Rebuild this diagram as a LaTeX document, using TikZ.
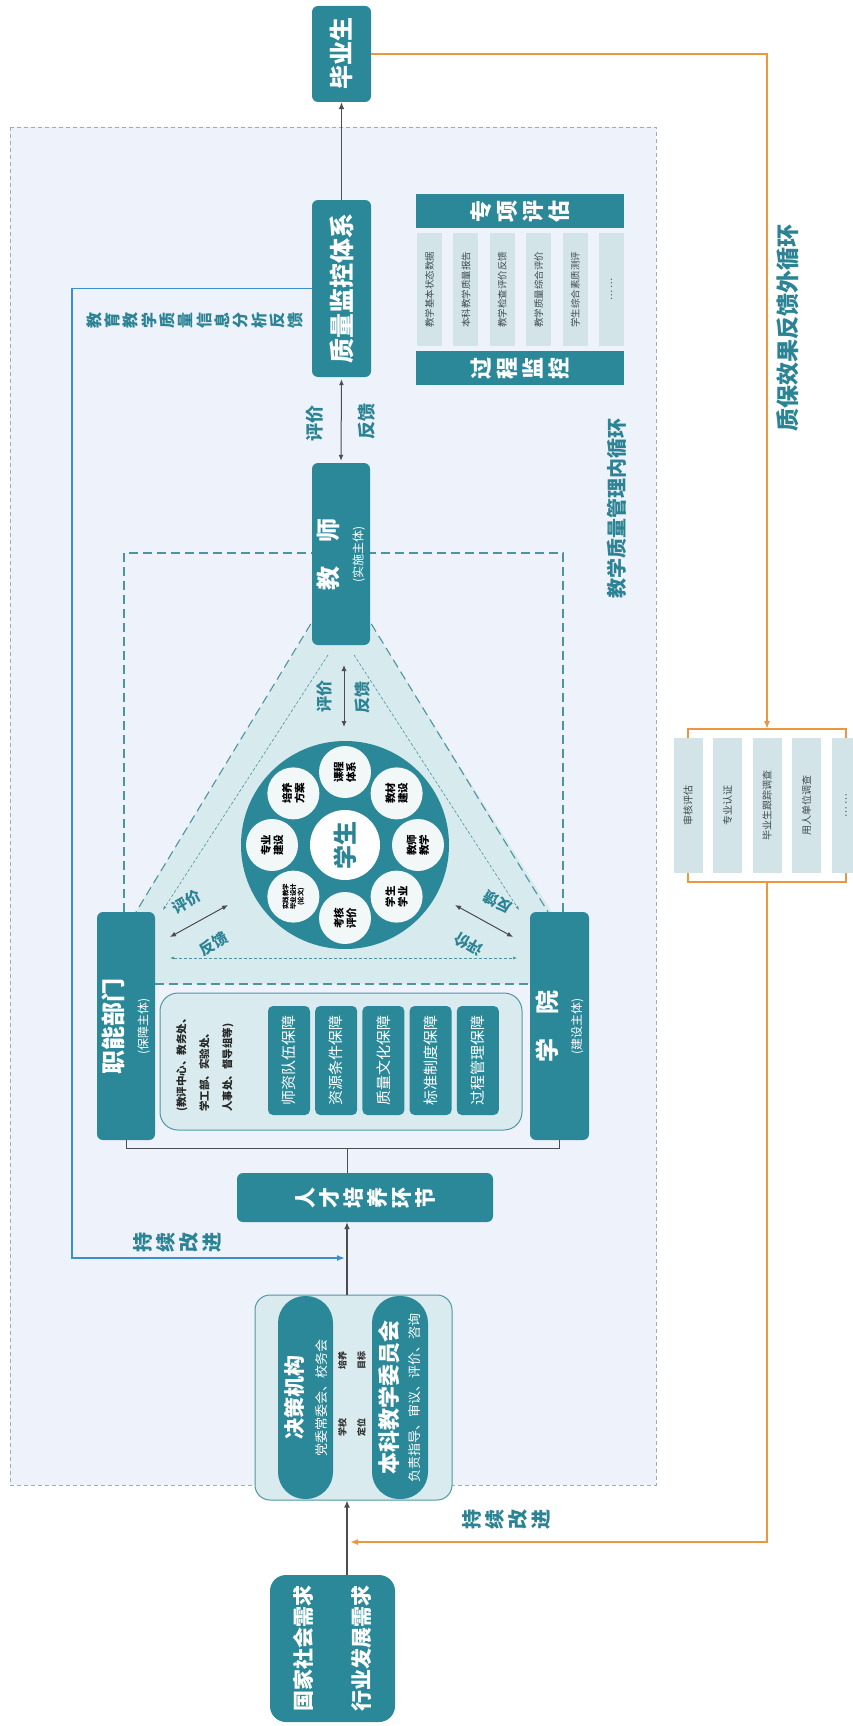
\documentclass[tikz,border=0pt]{standalone}
\usepackage{fontspec}
\setmainfont{Noto Sans CJK SC}
\usetikzlibrary{arrows.meta}

\definecolor{boxteal}{HTML}{2A8898}
\definecolor{labteal}{HTML}{2B8393}
\definecolor{paneltri}{HTML}{D7EAEE}
\definecolor{panelfill}{HTML}{D9EBEE}
\definecolor{panelline}{HTML}{4F97A3}
\definecolor{outerfill}{HTML}{EEF2FB}
\definecolor{outerline}{HTML}{9DAAB8}
\definecolor{colfill}{HTML}{D3E4E8}
\definecolor{coltext}{HTML}{3E4A4E}
\definecolor{dashteal}{HTML}{4E93A0}
\definecolor{fbblue}{HTML}{3A8FCC}
\definecolor{fborange}{HTML}{EC973F}
\definecolor{arrowgray}{HTML}{4D4D4D}
\definecolor{smallcirc}{HTML}{F2F7F8}

\newcommand\fsz[2]{\fontsize{#1}{#2}\selectfont}

\tikzset{
  tealbox/.style={fill=boxteal, text=white, rounded corners=6pt, inner sep=0pt, rotate=90, align=center},
  lightcol/.style={fill=colfill, text=coltext, inner sep=0pt, rotate=90},
  looptext/.style={text=labteal, inner sep=0pt},
  bigdash/.style={draw=dashteal, line width=1.1pt, dash pattern=on 9pt off 5pt},
  smalldash/.style={draw=dashteal, line width=0.6pt, dash pattern=on 3pt off 2pt},
  flowarrow/.style={draw=arrowgray, line width=1.3pt, -{Latex[length=7pt,width=6pt]}},
  twoway/.style={draw=arrowgray, line width=1pt, {Latex[length=6pt,width=5pt]}-{Latex[length=6pt,width=5pt]}},
  blueback/.style={draw=fbblue, line width=1.5pt},
  orangeback/.style={draw=fborange, line width=1.5pt},
}

\begin{document}
\begin{tikzpicture}[x=1pt,y=-1pt]
		%%%%% START %%%%%
		\useasboundingbox (0,0) rectangle (853,1726);
		\fill[white] (0,0) rectangle (853,1726);
		
		% inner loop frame
		\draw[outerline, fill=outerfill, dash pattern=on 4pt off 3pt, line width=0.7pt] (10,127) rectangle (656,1485);
		
		% triangle of the three subjects
		\fill[paneltri] (314,620) -- (128,925) -- (128,984) -- (560,984) -- (560,925) -- (368,620) -- cycle;
		\draw[bigdash] (124,912) -- (124,553) -- (563,553) -- (563,912);
		\draw[bigdash] (318,612) -- (136,912);
		\draw[bigdash] (364,612) -- (548,912);
		\draw[bigdash] (155,984) -- (530,984);
		\draw[smalldash, -{Latex[length=4pt,width=3pt]}] (328,655) -- (163,910);
		\draw[smalldash, -{Latex[length=4pt,width=3pt]}] (354,655) -- (519,910);
		\draw[smalldash, {Latex[length=4pt,width=3pt]}-{Latex[length=4pt,width=3pt]}] (170,958) -- (517,958);
		
		\draw[twoway] (170,937) -- (228,905);
		\node[looptext, font=\bfseries\fsz{15}{18}, rotate=30] (pjl) at (187,902) {评价};
		\node[looptext, font=\bfseries\fsz{15}{18}, rotate=30] (fkl) at (214,944) {反馈};
		\draw[twoway] (455,905) -- (513,937);
		\node[looptext, font=\bfseries\fsz{15}{18}, rotate=150] (fkr) at (498,902) {反馈};
		\node[looptext, font=\bfseries\fsz{15}{18}, rotate=150] (pjr) at (469,944) {评价};
		\draw[twoway] (344,665) -- (344,727);
		\node[looptext, font=\bfseries\fsz{16}{18}, rotate=90] (pjt) at (324,696) {评价};
		\node[looptext, font=\bfseries\fsz{16}{18}, rotate=90] (fkt) at (362,697) {反馈};
		
		% student circle
		\node[circle, fill=boxteal, minimum size=208pt, inner sep=0pt] (ring) at (345,845) {};
		\node[circle, fill=white, minimum size=70pt, inner sep=0pt, rotate=90, text=labteal, font=\bfseries\fsz{24}{28}] (student) at (ring) {学生};
		\foreach \ang/\fsa/\fsb/\txt [count=\i] in {90/10.5/12.5/课程\\体系, 45/10.5/12.5/教材\\建设, 0/10.5/12.5/教师\\教学, -45/10.5/12.5/学生\\学业, -90/10.5/12.5/考核\\评价, -135/6.5/7.5/实践教学\\毕业设计\\(论文), 180/10.5/12.5/专业\\建设, 135/10.5/12.5/培养\\方案}
			\node[circle, fill=smallcirc, minimum size=52pt, inner sep=0pt, rotate=90, align=center, font=\bfseries\fsz{\fsa}{\fsb}] (sub\i) at ({345+73*cos(\ang)},{845-73*sin(\ang)}) {\txt};
		
		% guarantee panel
		\node[draw=panelline, fill=panelfill, line width=1pt, rounded corners=18pt, minimum width=362pt, minimum height=137pt, inner sep=0pt] (bzpanel) at (341,1061.5) {};
		\node[rotate=90, anchor=west, align=left, inner sep=0pt, font=\bfseries\fsz{10.5}{23}, text=black!85] (units) at (205,1112) {(教评中心、教务处、\\学工部、实验处、\\人事处、督导组等)};
		\foreach \txt [count=\i] in {师资队伍保障, 资源条件保障, 质量文化保障, 标准制度保障, 过程管理保障}
			\node[tealbox, rounded corners=5pt, minimum width=109pt, minimum height=42pt, font=\fsz{15}{18}] (bz\i) at ({289+47.2*(\i-1)},1060.5) {\txt};
		
		% main boxes
		\node[tealbox, minimum width=96pt, minimum height=59pt, font=\bfseries\fsz{24}{28}] (grad) at (341.5,54) {毕业生};
		\node[tealbox, minimum width=177pt, minimum height=59pt, font=\bfseries\fsz{25}{30}] (qms) at (341.5,288.5) {质量监控体系};
		\node[tealbox, minimum width=182pt, minimum height=58pt, font=\bfseries\fsz{12}{25}] (teacher) at (341,554) {{\fsz{24}{28}教\hspace{1em}师}\\{\mdseries(实施主体)}};
		\node[tealbox, minimum width=228pt, minimum height=58pt, font=\bfseries\fsz{12}{25}] (dept) at (126,1026) {{\fsz{24}{28}职能部门}\\{\mdseries(保障主体)}};
		\node[tealbox, minimum width=228pt, minimum height=59pt, font=\bfseries\fsz{12}{25}] (college) at (559.5,1026) {{\fsz{24}{28}学\hspace{1em}院}\\{\mdseries(建设主体)}};
		\node[tealbox, minimum width=49pt, minimum height=256pt, font=\bfseries\fsz{21}{24}] (talent) at (365,1197.5) {人\\才\\培\\养\\环\\节};
		
		% decision group
		\node[draw=panelline, fill=panelfill, line width=1pt, rounded corners=15pt, minimum width=197pt, minimum height=205pt, inner sep=0pt] (dgroup) at (353.5,1397.5) {};
		\node[tealbox, rounded corners=27pt, minimum width=203pt, minimum height=55pt, font=\bfseries\fsz{13}{24}] (juece) at (305.5,1397.5) {{\fsz{21}{25}决策机构}\\{\mdseries 党委常委会、校务会}};
		\node[tealbox, rounded corners=27pt, minimum width=203pt, minimum height=56pt, font=\bfseries\fsz{13}{22}] (benke) at (400,1397.5) {{\fsz{22}{25}本科教学委员会}\\{\mdseries 负责指导、审议、评价、咨询}};
		\node[rotate=90, align=center, inner sep=0pt, font=\bfseries\fsz{9}{19}, text=black!80] (dingwei) at (352,1427) {学校\\定位};
		\node[rotate=90, align=center, inner sep=0pt, font=\bfseries\fsz{9}{19}, text=black!80] (mubiao) at (352,1360) {培养\\目标};
		
		\node[tealbox, rounded corners=16pt, minimum width=147pt, minimum height=125pt, font=\bfseries\fsz{21}{58}] (needs) at (332.5,1648.5) {国家社会需求\\行业发展需求};
		
		% monitoring block
		\node[tealbox, rounded corners=0pt, minimum width=34pt, minimum height=208pt, font=\bfseries\fsz{22}{26}] (zxpg) at (520,211) {专\\项\\评\\估};
		\node[tealbox, rounded corners=0pt, minimum width=34pt, minimum height=208pt, font=\bfseries\fsz{22}{26}] (gcjk) at (520,368) {过\\程\\监\\控};
		\foreach \txt [count=\i] in {教学基本状态数据, 本科教学质量报告, 教学检查评价反馈, 教学质量综合评价, 学生综合素质测评, … …}
			\node[lightcol, minimum width=113pt, minimum height=25pt, font=\fsz{9.5}{11}] (mon\i) at ({429.5+36.4*(\i-1)},289.5) {\txt};
		
		% outside checks
		\foreach \txt [count=\i] in {审核评估, 专业认证, 毕业生跟踪调查, 用人单位调查, … …}
			\node[lightcol, minimum width=135pt, minimum height=29pt, font=\fsz{10}{12}] (chk\i) at ({688+39.5*(\i-1)},805.5) {\txt};
		
		% connectors
		\coordinate (spine) at (347,0);
		\coordinate (join) at (347,1148);
		\draw[flowarrow] (qms.east) -- (grad.west);
		\draw[twoway, shorten >=2pt, shorten <=2pt] (qms.west) -- (teacher.east);
		\draw[flowarrow] (needs.east -| spine) -- (dgroup.south -| spine);
		\draw[flowarrow] (dgroup.north -| spine) -- (talent.west -| spine);
		\draw[arrowgray, line width=1pt] (dept.west) |- (join) -| (college.west);
		\draw[arrowgray, line width=1pt] (join) -- (talent.east -| join);
		
		\coordinate (bluecorner) at (72,1258);
		\coordinate (bluein) at (345,1258);
		\draw[blueback, -{Latex[length=8pt,width=6pt]}] (qms.north) -| (bluecorner) -- (bluein);
		
		\coordinate (brtop) at (767,729);
		\coordinate (brbot) at (767,882);
		\coordinate (orin) at (350,1542);
		\draw[orangeback, -{Latex[length=8pt,width=6pt]}] (grad.south) -| (brtop);
		\draw[orangeback, -{Latex[length=8pt,width=6pt]}] (brbot) |- (orin);
		\draw[orangeback] (chk1.east) |- (brtop) -| (chk5.east);
		\draw[orangeback] (chk1.west) |- (brbot) -| (chk5.west);
		
		% labels
		\node[looptext, rotate=90, font=\bfseries\fsz{18}{22}] (pjm) at (315,423) {评价};
		\node[looptext, rotate=90, font=\bfseries\fsz{18}{22}] (fkm) at (367,421) {反馈};
		\node[looptext, rotate=90, font=\bfseries\fsz{20}{24}] (innerloop) at (617,508) {教学质量管理内循环};
		\node[looptext, rotate=90, font=\bfseries\fsz{23}{27}] (outerloop) at (788,328) {质保效果反馈外循环};
		\node[looptext, rotate=90, align=center, font=\bfseries\fsz{16}{18.3}] (infofb) at (195,320) {教\\育\\教\\学\\质\\量\\信\\息\\分\\析\\反\\馈};
		\node[looptext, rotate=90, align=center, font=\bfseries\fsz{20}{23}] (impr1) at (177,1242) {持\\续\\改\\进};
		\node[looptext, rotate=90, align=center, font=\bfseries\fsz{20}{23}] (impr2) at (506,1519) {持\\续\\改\\进};
		
		%%%%% END %%%%%
\end{tikzpicture}
\end{document}
